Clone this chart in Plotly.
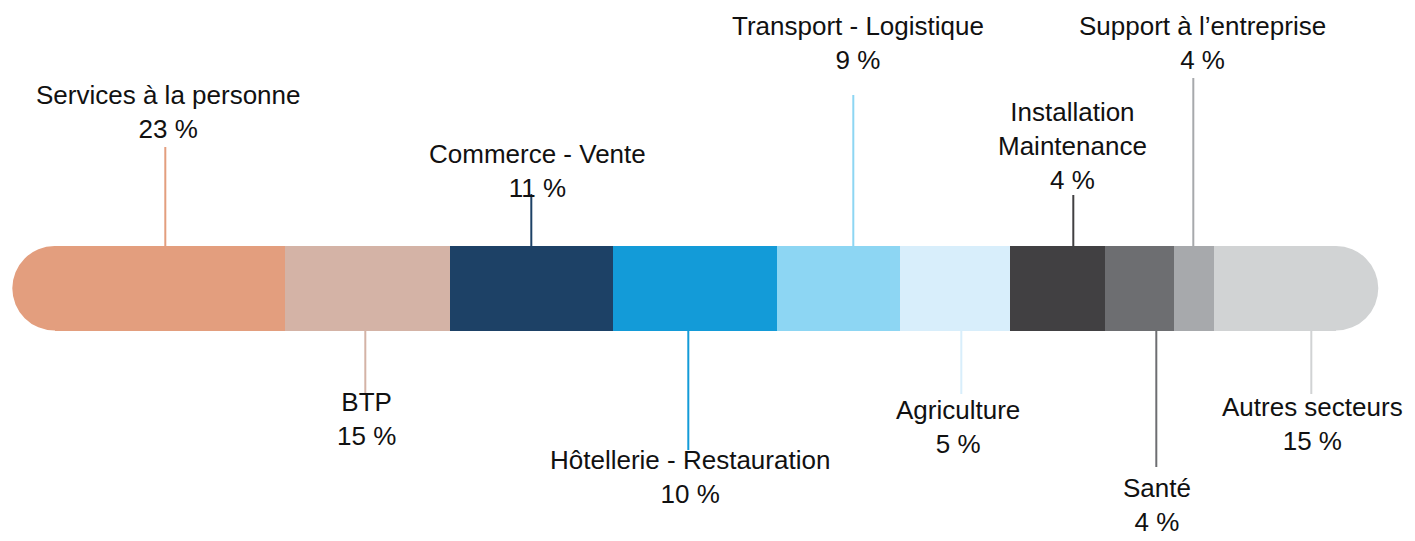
import plotly.graph_objects as go

# ---------------- data ----------------
categories = ["Services à la personne", "BTP", "Commerce - Vente", "Hôtellerie - Restauration",
              "Transport - Logistique", "Agriculture", "Installation<br>Maintenance", "Santé",
              "Support à l’entreprise", "Autres secteurs"]
shares_pct = [23, 15, 11, 10, 9, 5, 4, 4, 4, 15]
# visual lengths of the segments as drawn in the reference (not proportional to shares)
segment_lengths = [273, 165, 163, 164, 123, 110, 95, 69, 40, 164]
colors = ["#E39E7E", "#D4B3A6", "#1D4166", "#139BD8", "#8DD6F3",
          "#D8EEFB", "#414042", "#6D6E71", "#A7A9AC", "#D1D3D4"]

# ---------------- layout / style constants ----------------
W, H = 1415, 541
X0 = 12.3            # left offset of the track
BAR_Y = 288.3        # vertical centre of the track
BAR_H = 84.5         # track thickness
R = BAR_H / 2
label_side = ["up", "down"] * 5
leader_offset = [153, 80, 81, 75, 76, 61, 63, 51, 19, 97]
leader_end_y = [147, 393, 194, 450, 95, 394, 195, 467, 78, 394]
label_center_y = [111.7, 419, 171.2, 476.7, 43.2, 426.7, 145.8, 504.5, 42.5, 424]
label_dx = [3, 1, 6, 2, 5, -3, -1, 1, 9, 1]
FONT = "Liberation Sans, Arial, Helvetica, sans-serif"

starts = []
acc = 0
for L in segment_lengths:
    starts.append(acc)
    acc += L
total = acc
n = len(categories)

fig = go.Figure()
for i in range(n):
    base = starts[i]
    length = segment_lengths[i]
    if i == 0:
        base += R
        length -= R
    if i == n - 1:
        length -= R
    fig.add_trace(go.Bar(
        y=[BAR_Y], x=[length], base=[base], orientation="h", width=BAR_H,
        marker=dict(color=colors[i], line=dict(width=0)),
        name=categories[i].replace("<br>", " "), hoverinfo="skip", showlegend=False,
    ))

shapes = []
# rounded end caps
for cx, col in [(R, colors[0]), (total - R, colors[-1])]:
    shapes.append(dict(type="circle", xref="x", yref="y", x0=cx - R, x1=cx + R,
                       y0=BAR_Y - R, y1=BAR_Y + R, fillcolor=col,
                       line=dict(width=0), layer="below"))

annotations = []
for i in range(n):
    lx = starts[i] + leader_offset[i]
    y_edge = BAR_Y - R if label_side[i] == "up" else BAR_Y + R
    shapes.append(dict(type="line", xref="x", yref="y", x0=lx, x1=lx,
                       y0=y_edge, y1=leader_end_y[i],
                       line=dict(color=colors[i], width=2)))
    annotations.append(dict(
        x=lx + label_dx[i], y=label_center_y[i], xref="x", yref="y",
        text=f"{categories[i]}<br>{shares_pct[i]} %", showarrow=False,
        xanchor="center", yanchor="middle", align="center",
        font=dict(family=FONT, size=26, color="#111111"),
    ))

fig.update_layout(
    width=W, height=H, margin=dict(l=0, r=0, t=0, b=0),
    paper_bgcolor="white", plot_bgcolor="white",
    barmode="overlay", bargap=0, showlegend=False,
    xaxis=dict(range=[-X0, W - X0], visible=False, fixedrange=True),
    yaxis=dict(range=[H, 0], visible=False, fixedrange=True),
    shapes=shapes, annotations=annotations,
)

fig.write_html("out.html", post_script="document.body.style.margin='0';",
               config={"displayModeBar": False})
